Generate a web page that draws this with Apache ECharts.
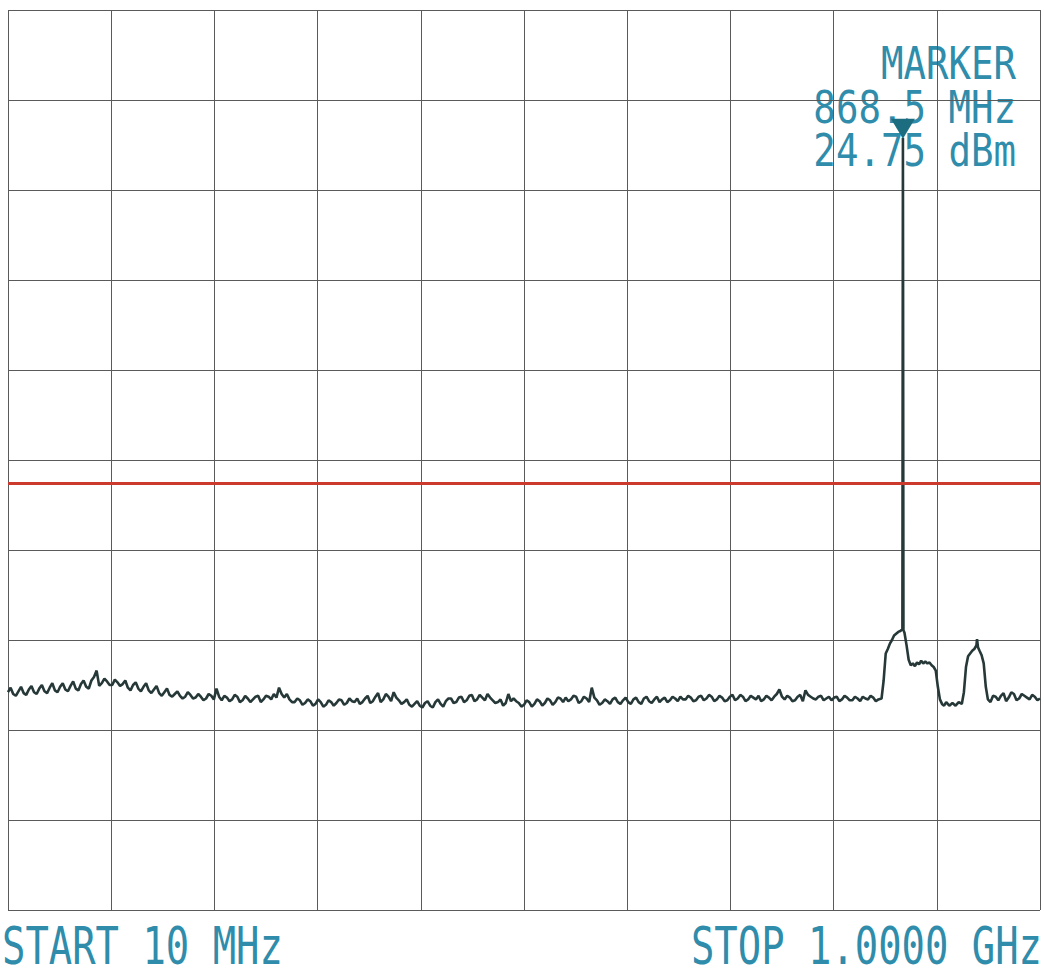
<!DOCTYPE html>
<html><head><meta charset="utf-8">
<script src="https://cdn.jsdelivr.net/npm/echarts@6/dist/echarts.min.js"></script>
<style>html,body{margin:0;padding:0;background:#fff}#c{width:1044px;height:979px}</style>
</head><body><div id="c"></div>
<script>
// Noise-floor sweep points (MHz) and level (dBm)
const floorFreqMHz = [
10,12.5,15,17.5,20,22.5,25,27.5,
30,32.5,35,37.5,40,42.5,45,47.5,
50,52.5,55,57.5,60,62.5,65,67.5,
70,72.5,75,77.5,80,82.5,85,87.5,
90,92.5,95,97.5,100,102.5,105,107.5,
110,112.5,115,117.5,120,122.5,125,127.5,
130,132.5,135,137.5,140,142.5,145,147.5,
150,152.5,155,157.5,160,162.5,165,167.5,
170,172.5,175,177.5,180,182.5,185,187.5,
190,192.5,195,197.5,200,202.5,205,207.5,
210,212.5,215,217.5,220,222.5,225,227.5,
230,232.5,235,237.5,240,242.5,245,247.5,
250,252.5,255,257.5,260,262.5,265,267.5,
270,272.5,275,277.5,280,282.5,285,287.5,
290,292.5,295,297.5,300,302.5,305,307.5,
310,312.5,315,317.5,320,322.5,325,327.5,
330,332.5,335,337.5,340,342.5,345,347.5,
350,352.5,355,357.5,360,362.5,365,367.5,
370,372.5,375,377.5,380,382.5,385,387.5,
390,392.5,395,397.5,400,402.5,405,407.5,
410,412.5,415,417.5,420,422.5,425,427.5,
430,432.5,435,437.5,440,442.5,445,447.5,
450,452.5,455,457.5,460,462.5,465,467.5,
470,472.5,475,477.5,480,482.5,485,487.5,
490,492.5,495,497.5,500,502.5,505,507.5,
510,512.5,515,517.5,520,522.5,525,527.5,
530,532.5,535,537.5,540,542.5,545,547.5,
550,552.5,555,557.5,560,562.5,565,567.5,
570,572.5,575,577.5,580,582.5,585,587.5,
590,592.5,595,597.5,600,602.5,605,607.5,
610,612.5,615,617.5,620,622.5,625,627.5,
630,632.5,635,637.5,640,642.5,645,647.5,
650,652.5,655,657.5,660,662.5,665,667.5,
670,672.5,675,677.5,680,682.5,685,687.5,
690,692.5,695,697.5,700,702.5,705,707.5,
710,712.5,715,717.5,720,722.5,725,727.5,
730,732.5,735,737.5,740,742.5,745,747.5,
750,752.5,755,757.5,760,762.5,765,767.5,
770,772.5,775,777.5,780,782.5,785,787.5,
790,792.5,795,797.5,800,802.5,805,807.5,
810,812.5,815,817.5,820,822.5,825,827.5,
830,832.5,835,837.5,840,842.5,845
];
const floorLevelDbm = [
-35.8,-35.3,-36.0,-36.2,-35.7,-35.2,-35.9,-36.1,
-35.5,-35.1,-35.8,-36.0,-35.4,-35.0,-35.7,-35.9,
-35.3,-34.8,-35.6,-35.8,-35.2,-34.8,-35.5,-35.7,
-35.1,-34.6,-35.4,-35.6,-34.9,-34.5,-35.2,-35.4,
-34.5,-34.1,-33.4,-35.1,-34.8,-34.3,-34.6,-35.0,
-35.0,-34.4,-34.7,-35.1,-34.9,-34.5,-35.3,-35.6,
-35.0,-34.7,-35.4,-35.7,-35.2,-34.8,-35.6,-35.9,
-35.5,-35.1,-35.9,-36.2,-35.8,-35.4,-36.1,-36.3,
-36.0,-35.7,-36.2,-36.5,-36.3,-35.8,-36.1,-36.5,
-36.4,-36.0,-36.3,-36.7,-36.5,-36.0,-36.2,-36.6,
-35.4,-36.3,-36.7,-36.2,-36.4,-36.8,-36.6,-36.1,
-36.3,-36.9,-36.7,-36.2,-36.5,-36.9,-36.6,-36.3,
-36.2,-36.9,-36.6,-36.2,-36.3,-36.6,-36.0,-36.4,
-35.3,-36.0,-36.4,-36.0,-36.6,-36.9,-36.9,-36.5,
-36.7,-37.2,-37.0,-36.6,-36.8,-37.3,-37.1,-36.6,
-36.9,-37.4,-37.2,-36.7,-36.9,-37.3,-37.0,-36.6,
-36.7,-37.2,-37.0,-36.5,-36.8,-36.9,-36.5,-37.1,
-36.9,-36.5,-36.2,-37.0,-36.8,-36.3,-35.9,-36.9,
-36.6,-36.0,-36.3,-36.8,-35.8,-36.4,-36.7,-37.1,
-36.9,-36.6,-37.2,-37.4,-37.1,-36.8,-37.3,-37.5,
-37.0,-36.8,-37.3,-37.5,-36.9,-36.6,-37.1,-37.4,
-36.8,-36.5,-36.5,-37.0,-36.9,-36.4,-36.3,-36.9,
-36.7,-36.2,-36.1,-36.8,-36.6,-36.1,-36.4,-36.7,
-36.0,-36.4,-36.7,-37.0,-36.9,-36.6,-37.3,-37.0,
-36.0,-36.8,-36.5,-36.8,-37.0,-37.4,-37.2,-36.7,
-36.9,-37.4,-37.1,-36.6,-36.8,-37.3,-37.0,-36.5,
-36.7,-37.2,-36.9,-36.4,-36.5,-36.9,-36.4,-36.8,
-36.6,-36.2,-36.3,-37.0,-36.8,-36.3,-36.5,-36.9,
-35.3,-36.4,-36.7,-37.2,-37.0,-36.6,-36.8,-37.1,
-36.6,-36.4,-36.9,-37.1,-36.7,-36.4,-36.9,-37.1,
-36.6,-36.4,-36.9,-37.1,-36.5,-36.3,-36.8,-37.0,
-36.6,-36.3,-36.9,-36.6,-36.4,-36.9,-36.7,-36.3,
-36.5,-36.8,-36.3,-36.6,-36.6,-36.2,-36.4,-36.8,
-36.7,-36.3,-36.2,-36.7,-36.5,-36.1,-36.3,-36.8,
-36.6,-36.2,-36.4,-36.8,-36.7,-36.3,-36.1,-36.7,
-36.5,-36.1,-36.3,-36.8,-36.6,-36.2,-36.4,-36.6,
-36.2,-36.8,-36.6,-36.2,-36.4,-36.7,-36.3,-36.0,
-35.5,-36.3,-36.6,-36.2,-36.4,-36.8,-36.7,-36.3,
-36.1,-36.8,-35.6,-36.1,-36.3,-36.5,-36.6,-36.3,
-36.2,-36.7,-36.5,-36.3,-36.7,-36.4,-36.3,-36.8,
-36.6,-36.2,-36.4,-36.7,-36.7,-36.3,-36.5,-36.8,
-36.3,-36.5,-36.6,-36.2,-36.4,-36.8,-36.6
];
// Carrier region (two humps and the 868.5 MHz carrier)
const carrierFreqMHz = [
848,850,852,854,856,858,860,862,864,866,
868,868.5,869,870,872,874,876,878,880,882,
884,886,888,890,892,894,896,898,900,902,
904,906,908,910,913,916,919,922,925,927,
929,931,933,935,937,939,939.6,940.5,942,944,
946,948,950
];
const carrierLevelDbm = [
-36.5,-34.5,-31.5,-31.0,-30.4,-30.0,-29.5,-29.3,-29.1,-29.0,
-28.8,25.8,-28.9,-29.2,-30.6,-32.2,-32.8,-32.6,-32.9,-32.5,
-32.7,-32.3,-32.6,-32.4,-32.6,-32.5,-32.8,-33.0,-33.4,-35.2,
-36.6,-37.1,-37.3,-36.9,-37.3,-37.0,-37.3,-36.9,-37.1,-35.8,
-33.0,-31.8,-31.5,-31.2,-31.0,-30.6,-29.9,-30.8,-31.2,-31.7,
-32.6,-35.2,-36.6
];
// Tail of the sweep
const tailFreqMHz = [952.5,955,957.5,960,962.5,965,967.5,970,972.5,975,977.5,980,982.5,985,987.5,990,992.5,995,997.5,1000];
const tailLevelDbm = [-36.9,-36.2,-36.3,-36.7,-36.2,-35.9,-36.8,-36.4,-35.8,-36.0,-36.7,-36.5,-36.0,-36.2,-36.4,-36.6,-36.1,-36.3,-36.7,-36.5];

const limitLineDbm = [-12.6];
const markerPoint = [868.5, 25.8];
const markerTexts = ['MARKER', '868.5 MHz', '24.75 dBm'];
const startLabel = 'START 10 MHz';
const stopLabel = 'STOP 1.0000 GHz';
const sweepMHz = [10, 1000];
const levelAxisDbm = [-60, 40, 10];
const divisionAxis = [0, 10, 1];

const chart = echarts.init(document.getElementById('c'), null, {renderer: 'svg'});
const pairs = (fs, vs) => fs.map((f, i) => [f, vs[i]]);
const traceData = pairs(floorFreqMHz, floorLevelDbm)
  .concat(pairs(carrierFreqMHz, carrierLevelDbm))
  .concat(pairs(tailFreqMHz, tailLevelDbm));
const gridCol = '#5a5a5a';
const textCol = '#2f8dab';
const monoFont = '"DejaVu Sans Mono", "Liberation Mono", monospace';

const option = {
  animation: false,
  backgroundColor: '#ffffff',
  grid: {left: 8, right: 4, top: 10, bottom: 69, show: false},
  xAxis: [
    {type: 'value', min: sweepMHz[0], max: sweepMHz[1], show: false},
    {type: 'value', min: divisionAxis[0], max: divisionAxis[1], interval: divisionAxis[2], position: 'bottom',
     axisLine: {show: false}, axisTick: {show: false}, axisLabel: {show: false},
     splitLine: {show: true, lineStyle: {color: gridCol, width: 1}}}
  ],
  yAxis: {type: 'value', min: levelAxisDbm[0], max: levelAxisDbm[1], interval: levelAxisDbm[2],
    axisLine: {show: false}, axisTick: {show: false}, axisLabel: {show: false},
    splitLine: {show: true, lineStyle: {color: gridCol, width: 1}}},
  series: [{
    type: 'line', xAxisIndex: 0, yAxisIndex: 0, data: traceData,
    showSymbol: false, symbol: 'none', smooth: false,
    lineStyle: {color: '#263838', width: 2.6},
    markLine: {silent: true, symbol: 'none', label: {show: false},
      lineStyle: {color: '#cc3a2e', width: 3, type: 'solid'},
      data: limitLineDbm.map(v => ({yAxis: v}))},
    markPoint: {silent: true, symbol: 'triangle', symbolRotate: 180, symbolSize: [24, 20],
      symbolOffset: [0, -9], itemStyle: {color: '#1d6d80'}, label: {show: false},
      data: [{coord: markerPoint}]}
  }],
  graphic: [
    {type: 'text', x: 1016, y: 64, scaleX: 0.85, silent: true,
     style: {text: markerTexts[0], font: '44px ' + monoFont, fill: textCol, align: 'right', verticalAlign: 'middle'}},
    {type: 'text', x: 1016, y: 108, scaleX: 0.85, silent: true,
     style: {text: markerTexts[1], font: '44px ' + monoFont, fill: textCol, align: 'right', verticalAlign: 'middle'}},
    {type: 'text', x: 1016, y: 151, scaleX: 0.85, silent: true,
     style: {text: markerTexts[2], font: '44px ' + monoFont, fill: textCol, align: 'right', verticalAlign: 'middle'}},
    {type: 'text', x: 2, y: 946, scaleX: 0.81, scaleY: 1.08, silent: true,
     style: {text: startLabel, font: '48px ' + monoFont, fill: textCol, align: 'left', verticalAlign: 'middle'}},
    {type: 'text', x: 1042, y: 946, scaleX: 0.81, scaleY: 1.08, silent: true,
     style: {text: stopLabel, font: '48px ' + monoFont, fill: textCol, align: 'right', verticalAlign: 'middle'}}
  ]
};
chart.setOption(option);
</script>
</body></html>
